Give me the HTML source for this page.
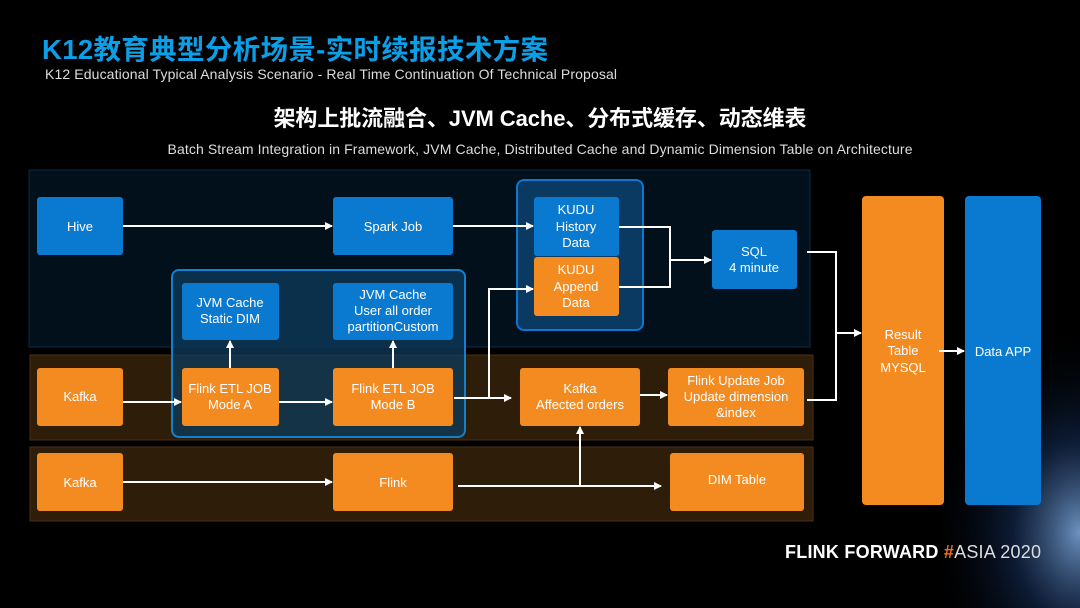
<!DOCTYPE html>
<html><head><meta charset="utf-8"><style>
body{margin:0;width:1080px;height:608px;overflow:hidden;background:#000;font-family:"Liberation Sans","Noto Sans CJK SC",sans-serif}
svg{position:absolute;left:0;top:0}
</style></head><body>
<svg width="1080" height="608" viewBox="0 0 1080 608">
<defs>
<radialGradient id="glow" cx="1" cy="0.8" r="0.55">
<stop offset="0" stop-color="#8ab8f0" stop-opacity="0.8"/>
<stop offset="0.45" stop-color="#1a3a70" stop-opacity="0.45"/>
<stop offset="1" stop-color="#000" stop-opacity="0"/>
</radialGradient>
<marker id="a" markerWidth="8" markerHeight="8" refX="7" refY="4" orient="auto" markerUnits="userSpaceOnUse"><path d="M0,0 L8,4 L0,8 z" fill="#fff"/></marker>
</defs>
<rect x="800" y="230" width="280" height="378" fill="url(#glow)"/>
<text x="42" y="59" font-size="27.5" font-weight="bold" fill="#0a9fe6" textLength="506" font-family="Liberation Sans,Noto Sans CJK SC,sans-serif">K12教育典型分析场景-实时续报技术方案</text>
<text x="45" y="79" font-size="14" fill="#ddd" textLength="572">K12 Educational Typical Analysis Scenario - Real Time Continuation Of Technical Proposal</text>
<text x="540" y="126" font-size="22" font-weight="bold" fill="#fff" text-anchor="middle" textLength="533">架构上批流融合、JVM Cache、分布式缓存、动态维表</text>
<text x="540" y="154" font-size="14" fill="#ddd" text-anchor="middle" textLength="745">Batch Stream Integration in Framework, JVM Cache, Distributed Cache and Dynamic Dimension Table on Architecture</text>

<rect x="29" y="170" width="781" height="177" fill="#02101c" stroke="#0c2a44" stroke-width="1"/>
<rect x="30" y="355" width="783" height="85" fill="#2e1e09" stroke="#4a3010" stroke-width="1"/>
<rect x="30" y="447" width="783" height="74" fill="#2e1e09" stroke="#4a3010" stroke-width="1"/>

<rect x="517" y="180" width="126" height="150" rx="7" fill="#0a3a62" stroke="#0a78d0" stroke-width="2"/>
<rect x="172" y="270" width="293" height="167" rx="7" fill="#0e3b5c" fill-opacity="0.75" stroke="#1380d0" stroke-width="2"/>

<g fill="#0a7ad0">
<rect x="37" y="197" width="86" height="58" rx="3"/>
<rect x="333" y="197" width="120" height="58" rx="3"/>
<rect x="534" y="197" width="85" height="59" rx="3"/>
<rect x="712" y="230" width="85" height="59" rx="3"/>
<rect x="182" y="283" width="97" height="57" rx="3"/>
<rect x="333" y="283" width="120" height="57" rx="3"/>
<rect x="965" y="196" width="76" height="309" rx="4"/>
</g>
<g fill="#f38b20">
<rect x="534" y="257" width="85" height="59" rx="3"/>
<rect x="37" y="368" width="86" height="58" rx="3"/>
<rect x="182" y="368" width="97" height="58" rx="3"/>
<rect x="333" y="368" width="120" height="58" rx="3"/>
<rect x="520" y="368" width="120" height="58" rx="3"/>
<rect x="668" y="368" width="136" height="58" rx="3"/>
<rect x="37" y="453" width="86" height="58" rx="3"/>
<rect x="333" y="453" width="120" height="58" rx="3"/>
<rect x="670" y="453" width="134" height="58" rx="3"/>
<rect x="862" y="196" width="82" height="309" rx="4"/>
</g>

<g stroke="#fff" stroke-width="2" fill="none">
<path d="M123,226 H332" marker-end="url(#a)"/>
<path d="M453,226 H533" marker-end="url(#a)"/>
<path d="M619,227 H670 V287 H619"/>
<path d="M670,260 H711" marker-end="url(#a)"/>
<path d="M807,252 H836 V400 H807"/>
<path d="M836,333 H861" marker-end="url(#a)"/>
<path d="M939,351 H964" marker-end="url(#a)"/>
<path d="M123,402 H181" marker-end="url(#a)"/>
<path d="M279,402 H332" marker-end="url(#a)"/>
<path d="M454,398 H511" marker-end="url(#a)"/>
<path d="M489,398 V289 H533" marker-end="url(#a)"/>
<path d="M230,368 V341" marker-end="url(#a)"/>
<path d="M393,368 V341" marker-end="url(#a)"/>
<path d="M640,395 H667" marker-end="url(#a)"/>
<path d="M123,482 H332" marker-end="url(#a)"/>
<path d="M458,486 H661" marker-end="url(#a)"/>
<path d="M580,486 V427" marker-end="url(#a)"/>
</g>

<g fill="#fff" font-size="13" text-anchor="middle">
<text x="80" y="231">Hive</text>
<text x="393" y="231">Spark Job</text>
<text x="576" y="214">KUDU</text><text x="576" y="231">History</text><text x="576" y="247">Data</text>
<text x="576" y="274">KUDU</text><text x="576" y="291">Append</text><text x="576" y="307">Data</text>
<text x="754" y="256">SQL</text><text x="754" y="272">4 minute</text>
<text x="230" y="307">JVM Cache</text><text x="230" y="323">Static DIM</text>
<text x="393" y="299">JVM Cache</text><text x="393" y="315">User all order</text><text x="393" y="331">partitionCustom</text>
<text x="80" y="401">Kafka</text>
<text x="230" y="393">Flink ETL JOB</text><text x="230" y="409">Mode A</text>
<text x="393" y="393">Flink ETL JOB</text><text x="393" y="409">Mode B</text>
<text x="580" y="393">Kafka</text><text x="580" y="409">Affected orders</text>
<text x="736" y="385">Flink Update Job</text><text x="736" y="401">Update dimension</text><text x="736" y="417">&amp;index</text>
<text x="80" y="487">Kafka</text>
<text x="393" y="487">Flink</text>
<text x="737" y="484">DIM Table</text>
<text x="903" y="339">Result</text><text x="903" y="355">Table</text><text x="903" y="372">MYSQL</text>
<text x="1003" y="356">Data APP</text>
</g>
<text x="785" y="558" font-size="18" font-weight="bold" fill="#fff" textLength="256">FLINK  FORWARD <tspan fill="#f07020">#</tspan><tspan font-weight="normal" fill="#ddd">ASIA 2020</tspan></text>
</svg>
</body></html>
